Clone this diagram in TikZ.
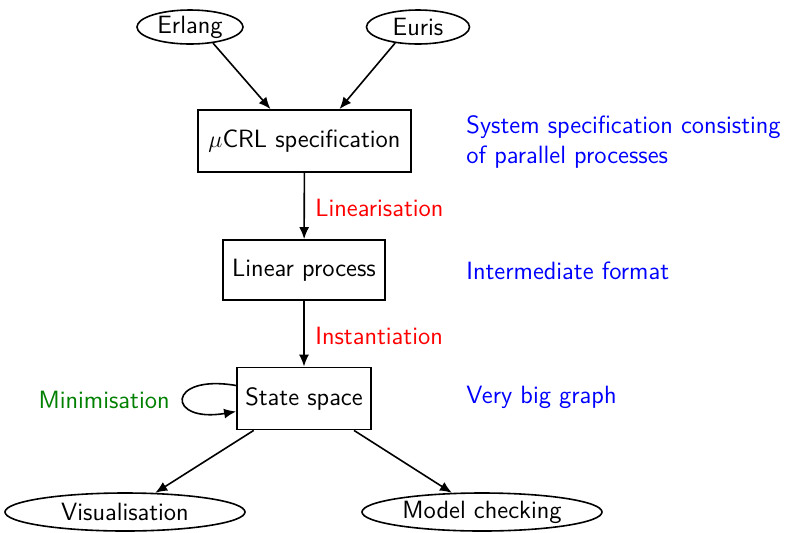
\documentclass[tikz,border=0pt]{standalone}
\usetikzlibrary{shapes.geometric,arrows.meta}
\begin{document}
\begin{tikzpicture}[x=0.5pt,y=-0.5pt, font=\fontsize{12.5}{15}\selectfont\sffamily,
  box/.style={draw, line width=0.9pt, minimum height=31pt, inner sep=0pt},
  oval/.style={draw, ellipse, line width=0.8pt, inner sep=0pt},
  conn/.style={-{Latex[length=6pt,width=5pt]}, line width=0.8pt},
  lbl/.style={inner sep=0pt}]
\useasboundingbox (0,0) rectangle (789,532);
\node[oval, minimum width=53pt, minimum height=17pt] (er) at (190,27) {Erlang};
\node[oval, minimum width=51.5pt, minimum height=17pt] (eu) at (418,27) {Euris};
\node[box, minimum width=106.5pt] (spec) at (304.5,141) {$\mu$CRL specification};
\node[box, minimum width=81pt, minimum height=30pt] (lin) at (304,270) {Linear process};
\node[box, minimum width=67pt] (ss) at (304,398.5) {State space};
\node[oval, minimum width=120pt, minimum height=19pt] (vis) at (125,512) {Visualisation};
\node[oval, minimum width=120pt, minimum height=19pt] (mc) at (482,512) {Model checking};
\node[lbl, red, anchor=west] (l1) at (315,208) {Linearisation};
\node[lbl, red, anchor=west] (l2) at (315,336) {Instantiation};
\node[lbl, green!50!black, anchor=east] (l3) at (170,400) {Minimisation};
\node[lbl, blue, anchor=west, align=left] (d1) at (466,142) {System specification consisting\\of parallel processes};
\node[lbl, blue, anchor=west] (d2) at (466,271) {Intermediate format};
\node[lbl, blue, anchor=west] (d3) at (466,397) {Very big graph};
\draw[conn] (er.-35) -- ([xshift=-17pt]spec.north);
\draw[conn] (eu.-145) -- ([xshift=17.5pt]spec.north);
\draw[conn] (spec) -- (lin);
\draw[conn] (lin) -- (ss);
\draw[conn] (ss) -- (vis);
\draw[conn] (ss) -- (mc);
\draw[conn] ([yshift=6.5pt]ss.west) .. controls +(-70,-12) and +(-70,12) .. ([yshift=-6.5pt]ss.west);
\end{tikzpicture}
\end{document}
